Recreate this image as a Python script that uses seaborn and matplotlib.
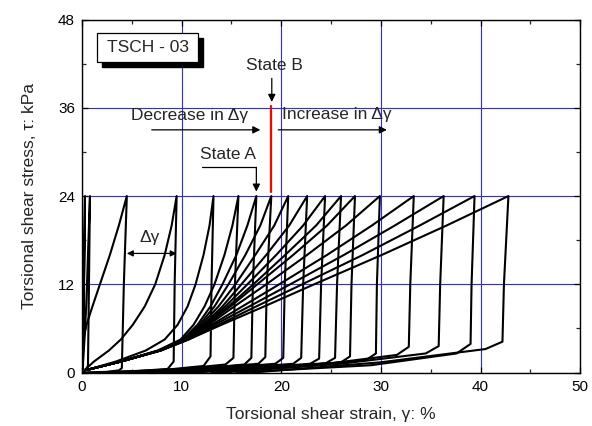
import matplotlib
matplotlib.use("Agg")
import matplotlib.pyplot as plt
from matplotlib.ticker import MultipleLocator
from matplotlib.patches import Rectangle
import pandas as pd
import seaborn as sns

sns.set_theme(style="ticks")
plt.rcParams["font.family"] = ["Liberation Sans", "DejaVu Sans"]
plt.rcParams.update({
    "xtick.direction": "in", "ytick.direction": "in",
    "xtick.top": True, "ytick.right": True,
    "axes.edgecolor": "black", "axes.linewidth": 1.0,
})

# ---- cycle data (torsional shear strain in %, stress in kPa) ----
peak_stress = 24.0
# strain at the stress peak of every cycle
peak_strain = [0.3, 0.8, 4.5, 9.5, 13.2, 15.7, 17.5, 19.0, 20.7, 22.6,
               24.4, 26.0, 27.4, 29.9, 33.3, 36.3, 39.4, 42.8]
# foot of the stiff, nearly vertical segment
base_strain = [0.1, 0.6, 4.0, 9.2, 12.9, 15.2, 17.0, 18.4, 20.2, 22.0,
               23.8, 25.4, 26.9, 29.5, 32.8, 35.8, 39.0, 42.2]
base_stress = [0.5, 1.0, 0.6, 1.5, 2.2, 2.0, 2.0, 2.1, 2.0, 2.0,
               1.9, 2.0, 2.2, 2.6, 3.5, 3.6, 3.9, 4.2]
# strain of the stiff segment at tau = 12 kPa
vert_mid_strain = [0.2, 0.7, 4.2, 9.3, 13.0, 15.35, 17.15, 18.55, 20.35, 22.2,
                   24.0, 25.6, 27.05, 29.6, 32.95, 35.95, 39.1, 42.35]
# low-stiffness branch near zero stress: start strain and two inner points
low_start_strain = [0.0, 0.05, 0.1, 0.5, 1.5, 3.0, 4.0, 5.0, 6.0, 7.0,
                    8.0, 9.0, 10.0, 11.0, 13.0, 14.0, 15.5, 17.0]
low_mid1_strain = [0.03, 0.3, 2.5, 5.5, 8.5, 10.0, 11.5, 12.5, 14.0, 15.5,
                   17.0, 18.5, 19.5, 21.5, 24.0, 26.0, 29.0, 30.0]
low_mid1_stress = [0.1, 0.2, 0.1, 0.2, 0.4, 0.5, 0.5, 0.6, 0.6, 0.6,
                   0.6, 0.6, 0.7, 0.8, 1.1, 1.2, 1.0, 1.4]
low_mid2_strain = [0.07, 0.5, 3.7, 8.6, 12.2, 14.4, 16.3, 17.7, 19.4, 21.2,
                   22.9, 24.5, 26.0, 28.5, 31.6, 34.5, 37.6, 40.5]
low_mid2_stress = [0.3, 0.5, 0.3, 0.5, 0.9, 1.1, 1.1, 1.2, 1.2, 1.2,
                   1.2, 1.3, 1.4, 1.7, 2.4, 2.6, 2.6, 3.2]
# descending branch from the peak: strain read at these stress levels
desc_stress = [20.0, 16.0, 12.0, 9.0, 6.5, 4.5, 3.0, 1.5, 0.4]
desc_strain = [
    [0.27, 0.24, 0.2, 0.17, 0.14, 0.1, 0.07, 0.04, 0.0],
    [0.7, 0.6, 0.5, 0.42, 0.33, 0.25, 0.18, 0.1, 0.03],
    [3.7, 2.8, 1.8, 1.05, 0.45, 0.15, 0.1, 0.06, 0.03],
    [9.0, 8.3, 7.35, 6.3, 5.1, 3.9, 2.7, 1.2, 0.3],
    [12.8, 12.2, 11.4, 10.6, 9.6, 8.3, 6.4, 3.4, 0.6],
    [15.1, 14.3, 13.3, 12.3, 11.2, 9.9, 7.6, 3.9, 0.6],
    [16.6, 15.5, 14.1, 12.9, 11.6, 10.1, 7.7, 3.9, 0.6],
    [17.9, 16.4, 14.7, 13.3, 11.8, 10.2, 7.7, 3.9, 0.6],
    [19.3, 17.4, 15.4, 13.7, 12.0, 10.3, 7.8, 3.9, 0.6],
    [20.8, 18.5, 16.0, 14.1, 12.2, 10.4, 7.8, 3.9, 0.6],
    [22.2, 19.5, 16.6, 14.4, 12.3, 10.4, 7.8, 3.9, 0.6],
    [23.5, 20.4, 17.2, 14.7, 12.4, 10.5, 7.8, 3.9, 0.6],
    [24.6, 21.2, 17.6, 14.9, 12.5, 10.5, 7.8, 3.9, 0.6],
    [26.5, 22.6, 18.5, 15.3, 12.7, 10.5, 7.8, 3.9, 0.6],
    [29.1, 24.6, 19.8, 16.1, 13.0, 10.6, 7.9, 3.9, 0.6],
    [31.4, 26.3, 20.9, 16.8, 13.3, 10.6, 7.9, 3.9, 0.6],
    [33.9, 28.2, 22.1, 17.5, 13.7, 10.7, 7.9, 3.9, 0.6],
    [36.6, 30.1, 23.3, 18.3, 14.0, 10.7, 7.9, 3.9, 0.6],
]

# ---- assemble one path per cycle ----
rows = []
for i, p in enumerate(peak_strain):
    pts = [(low_start_strain[i], 0.0),
           (low_mid1_strain[i], low_mid1_stress[i]),
           (low_mid2_strain[i], low_mid2_stress[i]),
           (base_strain[i], base_stress[i]),
           (vert_mid_strain[i], 12.0),
           (p, peak_stress)]
    pts += list(zip(desc_strain[i], desc_stress))
    for k, (g, t) in enumerate(pts):
        rows.append({"cycle": i, "order": k, "strain": g, "stress": t})
df = pd.DataFrame(rows)

fig = plt.figure(figsize=(5.92, 4.26), dpi=100)
ax = fig.add_axes([0.1385, 0.1254, 0.8415, 0.8288])

sns.lineplot(data=df, x="strain", y="stress", units="cycle", estimator=None,
             sort=False, color="black", lw=1.5, ax=ax, legend=False, zorder=3,
             solid_joinstyle="round", solid_capstyle="round")

ax.set_xlim(0, 50)
ax.set_ylim(0, 48)
ax.xaxis.set_major_locator(MultipleLocator(10))
ax.xaxis.set_minor_locator(MultipleLocator(5))
ax.yaxis.set_major_locator(MultipleLocator(12))
ax.yaxis.set_minor_locator(MultipleLocator(6))
ax.tick_params(which="major", length=4, width=0.9, labelsize=11, pad=5, colors="black")
ax.tick_params(which="minor", length=3, width=0.9)
ax.grid(True, which="major", color="#2a2aff", lw=0.8)
ax.set_axisbelow(True)
for s in ax.spines.values():
    s.set_color("black")
    s.set_zorder(4)

ax.set_xlabel("Torsional shear strain, γ: %", fontsize=12.5, labelpad=10)
ax.set_ylabel("Torsional shear stress, τ: kPa", fontsize=12.5, labelpad=15)

# specimen tag with drop shadow
ax.add_patch(Rectangle((1.98, 41.56), 10.2, 3.86, facecolor="black",
                       edgecolor="black", zorder=5))
ax.add_patch(Rectangle((1.48, 42.24), 10.2, 3.86, facecolor="white",
                       edgecolor="black", lw=0.9, zorder=6))
ax.text(6.58, 44.17, "TSCH - 03", fontsize=12.5, ha="center", va="center", zorder=7)

arrow = dict(arrowstyle="-|>", color="black", lw=0.9, mutation_scale=11,
             shrinkA=0, shrinkB=0)

# state B
ax.text(19.3, 41.8, "State B", fontsize=12.5, ha="center", va="center")
ax.annotate("", xy=(19.05, 36.8), xytext=(19.05, 40.0), arrowprops=arrow)
ax.plot([19.0, 19.0], [24.6, 36.2], color="red", lw=1.6, zorder=5)

# decreasing / increasing amplitude
ax.text(10.84, 35.0, "Decrease in Δγ", fontsize=12.5, ha="center", va="center")
ax.annotate("", xy=(17.9, 33.0), xytext=(7.0, 33.0), arrowprops=arrow)
ax.text(25.57, 35.1, "Increase in Δγ", fontsize=12.5, ha="center", va="center")
ax.annotate("", xy=(30.6, 33.0), xytext=(19.7, 33.0), arrowprops=arrow)

# state A
ax.text(14.66, 29.7, "State A", fontsize=12.5, ha="center", va="center")
ax.plot([12.0, 17.5], [27.9, 27.9], color="black", lw=0.9)
ax.annotate("", xy=(17.5, 24.6), xytext=(17.5, 27.9), arrowprops=arrow)

# strain increment between cycles
ax.text(6.8, 18.4, "Δγ", fontsize=12.5, ha="center", va="center")
ax.annotate("", xy=(4.5, 16.2), xytext=(9.5, 16.2),
            arrowprops=dict(arrowstyle="<|-|>", color="black", lw=0.9,
                            mutation_scale=9, shrinkA=0, shrinkB=0))

fig.savefig("out.png", dpi=100)
